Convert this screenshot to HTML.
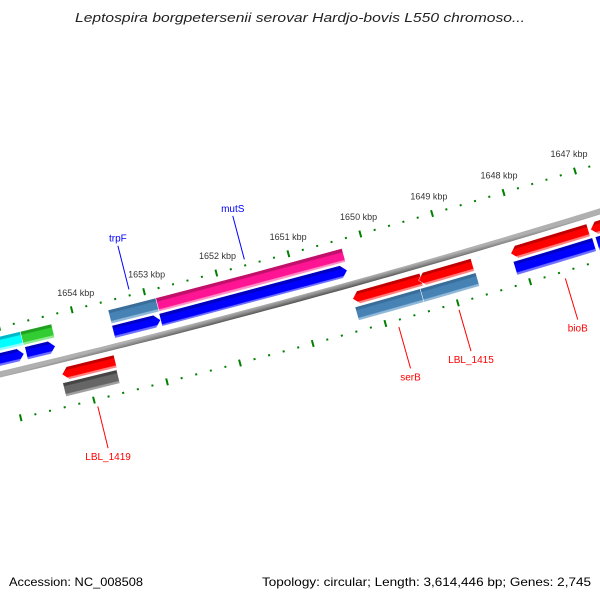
<!DOCTYPE html>
<html><head><meta charset="utf-8"><style>
html,body{margin:0;padding:0;background:#fff;}
svg{display:block;font-family:"Liberation Sans",sans-serif;}
</style></head><body>
<svg id="chart" width="600" height="600" viewBox="0 0 600 600" xmlns="http://www.w3.org/2000/svg">
<rect width="600" height="600" fill="#fff"/>
<defs id="defs"></defs>
<text x="300" y="22" text-anchor="middle" font-size="13" font-style="italic" fill="#222" textLength="450" lengthAdjust="spacingAndGlyphs">Leptospira borgpetersenii serovar Hardjo-bovis L550 chromoso...</text>
<g id="ticks"></g>
<g id="backbone"></g>
<g id="features"></g>
<g id="labels"></g>
<text x="9" y="586" font-size="12" fill="#000" textLength="134" lengthAdjust="spacingAndGlyphs">Accession: NC_008508</text>
<text x="591" y="586" text-anchor="end" font-size="12" fill="#000" textLength="329" lengthAdjust="spacingAndGlyphs">Topology: circular; Length: 3,614,446 bp; Genes: 2,745</text>
</svg>
<script>
// ---- data (positions in kbp) ----
const majorTicks = [1654,1653,1652,1651,1650,1649,1648,1647,1646];
const tickLabels = ["1654 kbp","1653 kbp","1652 kbp","1651 kbp","1650 kbp","1649 kbp","1648 kbp","1647 kbp",""];
const featStart = [1655.6,1654.74,1653.53,1652.87, 1655.6,1654.73,1653.53,1652.88, 1654.33,1650.33,1649.42,1648.14,1647.03, 1654.35,1650.33,1649.43,1648.14,1647.0];
const featEnd   = [1654.74,1654.31,1652.87,1650.29, 1654.76,1654.33,1652.88,1650.30, 1653.60,1649.38,1648.67,1647.06,1646.4, 1653.61,1649.43,1648.66,1647.04,1646.4];
const featRow   = ["A","A","A","A", "B","B","B","B", "C","C","C","C","C", "D","D","D","D","D"];
const featColor = ["cyan","green","steel","pink", "blue","blue","blue","blue", "red","red","red","red","red", "grey","steel","steel","blue","blue"];
const labelNames = ["trpF","mutS","LBL_1419","serB","LBL_1415","bioB"];
const labelPos   = [1653.19,1651.59,1653.97,1649.84,1649.01,1647.54];
const labelSide  = ["up","up","down","down","down","down"];

// ---- geometry ----
const CX=-2136, CY=-8677, R=9300, A0=1.3299, K=0.00806;
function pt(p,d){const a=A0+(p-1654)*K, r=R+d; return [CX+r*Math.cos(a), CY+r*Math.sin(a)];}
const rows={A:[-37,-23,false],B:[-21,-8,true],C:[8,21,true],D:[23,37,false]};
const pal={cyan:["#00b8c8","#00ffff","#90ffff"],green:["#20a020","#32cd32","#90e890"],steel:["#3a6e9a","#4682b4","#90b8d8"],
 pink:["#c0106a","#ff1493","#ff90c8"],blue:["#0000c0","#0000ff","#7070ff"],red:["#c00000","#ff0000","#ff8080"],grey:["#444","#666","#a0a0a0"]};
const NS="http://www.w3.org/2000/svg";
function mk(tag,attrs,parent){const e=document.createElementNS(NS,tag);for(const k in attrs)e.setAttribute(k,attrs[k]);parent.appendChild(e);return e;}
const defs=document.getElementById('defs');

// backbone
(function(){
 const g=document.getElementById('backbone');
 const pm=1651;const a=pt(pm,-3),b=pt(pm,3);
 const gr=mk('linearGradient',{id:'gbb',gradientUnits:'userSpaceOnUse',x1:a[0],y1:a[1],x2:b[0],y2:b[1]},defs);
 mk('stop',{offset:'0','stop-color':'#b0b0b0'},gr);mk('stop',{offset:'0.5','stop-color':'#888'},gr);mk('stop',{offset:'1','stop-color':'#505050'},gr);
 let pts=[];for(let p=1656;p>=1645.5;p-=0.25)pts.push(pt(p,-3));for(let p=1645.5;p<=1656;p+=0.25)pts.push(pt(p,3));
 const el=mk('polygon',{points:pts.map(q=>q[0].toFixed(1)+','+q[1].toFixed(1)).join(' '),fill:'url(#gbb)'},g);
 
 
})();

// ticks
(function(){
 const g=document.getElementById('ticks');
 for(let i=0;i<=55;i++){
  const p=1655-i*0.2; const major=Math.abs(p-Math.round(p))<0.01;
  for(const side of [-1,1]){
   const dc=side<0?-46:47;const half=major?3.5:1;
   const a=pt(p,dc-half),b=pt(p,dc+half);
   const ln=mk('line',{x1:a[0],y1:a[1],x2:b[0],y2:b[1],stroke:'#008000','stroke-width':2},g);
   
   
  }
 }
 majorTicks.forEach((p,i)=>{
  if(!tickLabels[i])return;
  const q=pt(p,-46);
  const t=mk('text',{x:q[0]+4-10*(1654-p)/7,y:q[1]-14,'text-anchor':'middle','font-size':'9',fill:'#333'},g);
  t.textContent=tickLabels[i];
  
  
 });
})();

// features
(function(){
 const g=document.getElementById('features');
 featStart.forEach((s,i)=>{
  const e=featEnd[i];const [d0,d1,arrow]=rows[featRow[i]];const c=pal[featColor[i]];
  const dm=(d0+d1)/2;const head=0.08;
  let pts=[];
  if(arrow){
   const tipP=featRow[i]==='B'?Math.min(s,e):Math.max(s,e);
   const baseP=featRow[i]==='B'?Math.max(s,e):Math.min(s,e);
   const dir=featRow[i]==='B'?1:-1;const neck=tipP+dir*head;
   pts=[pt(baseP,d0),pt(neck,d0),pt(tipP,dm),pt(neck,d1),pt(baseP,d1)];
  } else {
   pts=[pt(s,d0),pt((s+e)/2,d0),pt(e,d0),pt(e,d1),pt((s+e)/2,d1),pt(s,d1)];
  }
  const pm=(s+e)/2;const a=pt(pm,d0),b=pt(pm,d1);
  const gid='gf'+i;
  const gr=mk('linearGradient',{id:gid,gradientUnits:'userSpaceOnUse',x1:a[0],y1:a[1],x2:b[0],y2:b[1]},defs);
  [[0,c[0]],[0.2,c[0]],[0.28,c[1]],[0.78,c[1]],[0.84,c[2]],[1,c[2]]].forEach(st=>mk('stop',{offset:st[0],'stop-color':st[1]},gr));
  const el=mk('polygon',{points:pts.map(q=>q[0].toFixed(1)+','+q[1].toFixed(1)).join(' '),fill:'url(#'+gid+')',stroke:'#fff','stroke-width':'0.5'},g);
  
  
 });
})();

// labels
(function(){
 const g=document.getElementById('labels');
 labelNames.forEach((n,i)=>{
  const up=labelSide[i]==='up';const col=up?'#0000ff':'#ff0000';
  const a=pt(labelPos[i],up?-52:54), b=pt(labelPos[i],up?-97:97);
  const ln=mk('line',{x1:a[0],y1:a[1],x2:b[0],y2:b[1],stroke:col,'stroke-width':1},g);
  
  
  const t=mk('text',{x:b[0],y:up?b[1]-4:b[1]+12,'text-anchor':'middle','font-size':'10',fill:col},g);
  t.textContent=n;
  
  
 });
})();
</script>
</body></html>
